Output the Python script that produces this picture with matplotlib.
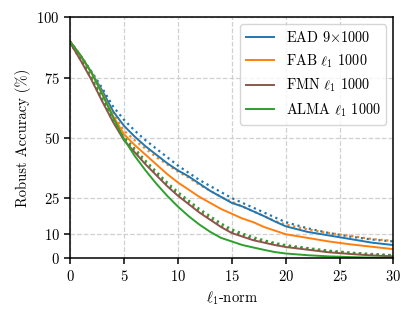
import numpy as np
import matplotlib
matplotlib.use("Agg")
import matplotlib.pyplot as plt

plt.rcParams['font.family'] = 'serif'
plt.rcParams['font.serif'] = ['cmr10']
plt.rcParams['mathtext.fontset'] = 'cm'
plt.rcParams['axes.formatter.use_mathtext'] = True
plt.rcParams['font.size'] = 10.5
plt.rcParams['axes.linewidth'] = 1.1

# l1-norm sample points
eps = [0, 1, 2, 3, 4, 5, 6, 7, 8, 9, 10, 11, 12, 13, 14, 15, 16, 17, 18, 19, 20, 22, 24, 26, 28, 30]

# solid curves
ead  = [90, 84, 77, 69.5, 61, 55, 50.5, 46.5, 43, 39.5, 36.5, 34, 31, 28, 25.5, 23, 21.5, 19.5, 17.5, 15.3, 13.3, 11, 9.5, 8, 6.5, 5.5]
fab  = [90, 84, 77, 68.5, 59, 51.5, 47, 43, 39, 35, 31.5, 28.5, 25.5, 23, 20.5, 18.5, 16.5, 15, 13, 11.5, 10, 8.5, 7, 5.8, 4.8, 3.8]
fmn  = [89.5, 82, 74, 65, 56.5, 49, 44, 39, 34.5, 30, 26, 22.5, 19, 16, 13, 10.5, 9, 7.5, 6.5, 5.5, 4.7, 3.6, 2.5, 1.8, 1.2, 0.8]
alma = [90, 84, 77, 68, 58.5, 49.5, 42.5, 36.5, 31, 26, 21.5, 17.5, 14, 11, 8.5, 7, 5.5, 4.5, 3.5, 2.6, 2, 1.3, 0.8, 0.5, 0.3, 0.2]

# dotted curves
ead_d  = [90, 84, 77.5, 70.5, 63, 57.5, 53, 49, 45.5, 42, 38.5, 35.5, 32.5, 30, 27.5, 25, 23, 21, 19, 17, 15, 12.5, 10.5, 9, 7.8, 7]
fab_d  = [90, 84, 77, 69, 60, 53, 49, 45.5, 42, 39, 36, 33.5, 30.5, 28, 25.5, 23.5, 21.5, 19.5, 17.5, 15.5, 14, 12, 10.5, 9.3, 8, 7.2]
fmn_d  = [89.5, 82.3, 74.5, 65.5, 57, 49.5, 44.5, 39.5, 35, 30.5, 26.5, 23, 19.5, 16.5, 13.5, 11, 9.5, 8, 7, 6, 5.1, 4, 2.9, 2.2, 1.6, 1.2]
alma_d = [90, 83, 75, 66.5, 58, 50.5, 45.5, 40.5, 36, 31.5, 27.5, 24, 20.5, 17.5, 14.5, 12, 10.3, 8.7, 7.5, 6.4, 5.5, 4.3, 3.2, 2.4, 1.8, 1.3]

labels = [r'EAD 9$\times$1000', r'FAB $\ell_1$ 1000', r'FMN $\ell_1$ 1000', r'ALMA $\ell_1$ 1000']
colors = ['#1f77b4', '#ff7f0e', '#8c564b', '#2ca02c']

fig = plt.figure(figsize=(4.15, 3.18), dpi=100)
ax = fig.add_axes([0.1687, 0.1877, 0.7793, 0.7579])

for ys, c in zip([ead_d, fab_d, fmn_d, alma_d], colors):
    ax.plot(eps, ys, ':', color=c, linewidth=1.6)
for ys, c, lab in zip([ead, fab, fmn, alma], colors, labels):
    ax.plot(eps, ys, '-', color=c, linewidth=1.4, label=lab)

ax.set_xlim(0, 30)
ax.set_ylim(0, 100)
ax.set_xticks([0, 5, 10, 15, 20, 25, 30])
ax.set_yticks([0, 10, 25, 50, 75, 100])
ax.tick_params(width=1.1, length=4)
ax.grid(True, linestyle='--', color='#d0d0d0', linewidth=0.9)
ax.set_axisbelow(True)
ax.set_xlabel(r'$\ell_1$-norm')
ax.set_ylabel('Robust Accuracy (%)')
ax.legend(loc='upper right', fontsize=10.3, framealpha=0.8)

fig.savefig('out.png', dpi=100)
